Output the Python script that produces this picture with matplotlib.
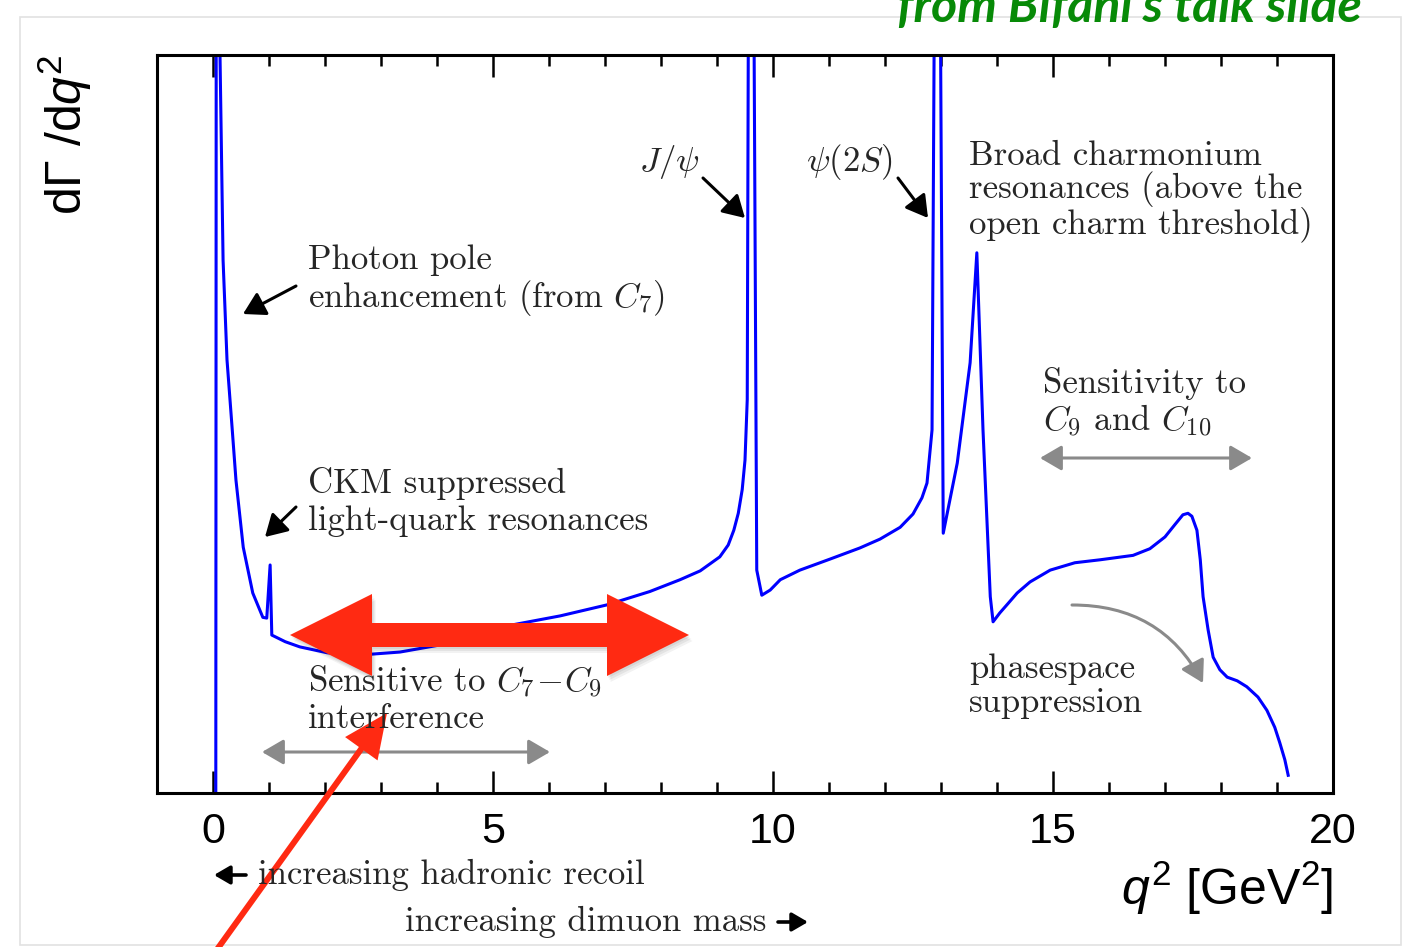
import numpy as np
import matplotlib.pyplot as plt
from matplotlib import patches

plt.rcParams['mathtext.fontset'] = 'cm'
plt.rcParams['mathtext.rm'] = 'Liberation Sans'
plt.rcParams['mathtext.it'] = 'Liberation Sans:italic'

W, H = 1403, 947

# dGamma/dq^2 for B -> K* mu mu, arbitrary units; the three narrow poles run off the top
Q2 = [0.05, 0.06, 0.11, 0.125, 0.18, 0.25, 0.34, 0.41, 0.54, 0.71, 0.89, 0.96,
      1.02, 1.05, 1.29, 1.55, 2.04, 2.63, 3.34, 4.23, 5.36, 6.20, 7.04, 7.80,
      8.34, 8.70, 9.05, 9.20, 9.30, 9.38, 9.45, 9.50, 9.54, 9.56, 9.61, 9.66,
      9.71, 9.80, 9.95, 10.13, 10.48, 11.02, 11.55, 11.91, 12.27, 12.50,
      12.66, 12.75, 12.84, 12.88, 12.93, 12.99, 13.04, 13.29, 13.52, 13.64,
      13.75, 13.88, 13.93, 14.05, 14.20, 14.36, 14.59, 14.95, 15.39, 15.84,
      16.43, 16.73, 17.00, 17.18, 17.32, 17.41, 17.48, 17.57, 17.63, 17.68,
      17.77, 17.86, 17.98, 18.11, 18.29, 18.46, 18.66, 18.82, 18.96, 19.05,
      19.14, 19.20]
RATE = [0.00, 14.0, 14.0, 10.0, 7.22, 5.87, 4.96, 4.24, 3.33, 2.71, 2.38, 2.37,
        3.09, 2.14, 2.05, 1.98, 1.90, 1.87, 1.91, 2.03, 2.28, 2.40, 2.55, 2.73,
        2.89, 3.01, 3.20, 3.36, 3.56, 3.79, 4.11, 4.51, 5.33, 10.5, 14.0, 10.5,
        3.02, 2.68, 2.75, 2.89, 3.02, 3.17, 3.32, 3.44, 3.60, 3.78,
        4.00, 4.20, 4.92, 10.5, 14.0, 10.5, 3.52, 4.47, 5.83, 7.32,
        4.92, 2.66, 2.32, 2.44, 2.57, 2.71, 2.86, 3.02, 3.12, 3.16,
        3.22, 3.31, 3.47, 3.64, 3.77, 3.79, 3.75, 3.56, 3.16, 2.66,
        2.21, 1.84, 1.67, 1.57, 1.52, 1.44, 1.30, 1.12, 0.89, 0.68,
        0.45, 0.24]

XTICKS = [0, 5, 10, 15, 20]
XTICK_LABELS = ['0', '5', '10', '15', '20']


def px(x, y):
    # pixel position on the page -> figure fraction
    return (x / W, 1 - y / H)


fig = plt.figure(figsize=(W / 100, H / 100), dpi=100)
ax = fig.add_axes([157 / W, 1 - 793 / H, (1333 - 157) / W, (793 - 55) / H])
ax.plot(Q2, RATE, color='#0000ff', lw=2.2, solid_joinstyle='round')
ax.set_xlim(-1, 20)
ax.set_ylim(0, 10)
ax.set_yticks([])
ax.set_xticks(XTICKS)
ax.set_xticklabels(XTICK_LABELS, fontfamily='Liberation Sans', fontsize=31)
ax.set_xticks(range(0, 21), minor=True)
ax.tick_params(which='both', direction='in', top=True, bottom=True,
               width=1.8, color='black', pad=14)
ax.tick_params(which='major', length=16)
ax.tick_params(which='minor', length=8)
for s in ax.spines.values():
    s.set_linewidth(2.2)

# page frame and source note
fig.add_artist(patches.Rectangle(px(20, 945), (1401 - 20) / W, (945 - 17) / H,
                                 transform=fig.transFigure, fill=False,
                                 edgecolor='#e2e2e2', lw=1.2))
fig.text(*px(1362, 22), "from Bifani's talk slide", ha='right', va='baseline',
         fontfamily='Lato', fontstyle='italic', fontweight='bold',
         color='#078a07', fontsize=36)

# axis titles
fig.text(*px(65, 135), 'dΓ /d$q^2$', rotation=90, ha='center', va='center',
         fontfamily='Liberation Sans', fontsize=36, math_fontfamily='custom')
fig.text(*px(1333, 888), '$q^2$ [GeV$^2$]', ha='right', va='center',
         fontfamily='Liberation Sans', fontsize=36, math_fontfamily='custom')

serif = ['cmr10', 'DejaVu Serif']
tcol = '#262626'


def note(x, y, s, ha='left', ls=1.2):
    fig.text(*px(x, y), s, ha=ha, va='center', fontfamily=serif, fontsize=25,
             color=tcol, linespacing=ls)


def arrow(tail, head, color='black', style='-|>', lw=2.2, ms=22, rad=0.0):
    fig.add_artist(patches.FancyArrowPatch(
        px(*tail), px(*head), transform=fig.transFigure,
        arrowstyle=style + ',head_length=0.6,head_width=0.35',
        mutation_scale=ms, lw=lw, color=color, shrinkA=0, shrinkB=0,
        connectionstyle=f'arc3,rad={rad}'))


note(308, 281, 'Photon pole\nenhancement (from $C_7$)', ls=1.08)
arrow((296, 286), (243, 314))
note(308, 502, 'CKM suppressed\nlight-quark resonances')
arrow((296, 507), (265, 537))
note(700, 162, r'$J/\psi$', ha='right')
arrow((703, 178), (745, 218))
note(893, 162, r'$\psi(2S)$', ha='right')
arrow((898, 178), (928, 218))
note(969, 191, 'Broad charmonium\nresonances (above the\nopen charm threshold)',
     ls=0.97)
note(1043, 403, 'Sensitivity to\n$C_9$ and $C_{10}$', ls=1.08)
arrow((1040, 458), (1252, 458), color='#8a8a8a', style='<|-|>')
note(308, 699, 'Sensitive to $C_7\\!-\\!C_9$\ninterference', ls=1.17)
arrow((262, 752), (550, 752), color='#8a8a8a', style='<|-|>')
note(969, 686, 'phasespace\nsuppression', ls=1.12)
arrow((1072, 605), (1203, 683), color='#8a8a8a', rad=-0.3)

# recoil / dimuon mass direction hints below the axis
note(258, 875, 'increasing hadronic recoil')
arrow((246, 875), (214, 875), lw=2.6, ms=16)
note(405, 922, 'increasing dimuon mass')
arrow((778, 922), (808, 922), lw=2.6, ms=16)

# red highlight arrows on top
red = '#ff2a12'
dbl = np.array([(290, 635), (372, 594), (372, 623), (607, 623), (607, 594),
                (689, 635), (607, 676), (607, 647), (372, 647), (372, 676)],
               dtype=float)


def to_fig(pts):
    return np.column_stack([pts[:, 0] / W, 1 - pts[:, 1] / H])


for off, a in [(2, 0.06), (4, 0.06), (6, 0.05)]:
    fig.add_artist(patches.Polygon(to_fig(dbl + [off * 0.6, off]),
                                   transform=fig.transFigure, color='black',
                                   alpha=a, lw=0))
fig.add_artist(patches.Polygon(to_fig(dbl), transform=fig.transFigure,
                               color=red, lw=0))

start = np.array([208.0, 962.0])
tip = np.array([387.0, 713.0])
u = (tip - start) / np.linalg.norm(tip - start)
n = np.array([-u[1], u[0]])
base = tip - 44 * u
line_pts = np.array([start + 3 * n, base + 3 * n, base + 20 * n, tip,
                     base - 20 * n, base - 3 * n, start - 3 * n])
fig.add_artist(patches.Polygon(to_fig(line_pts), transform=fig.transFigure,
                               color=red, lw=0))

fig.savefig('out.png', dpi=100)
